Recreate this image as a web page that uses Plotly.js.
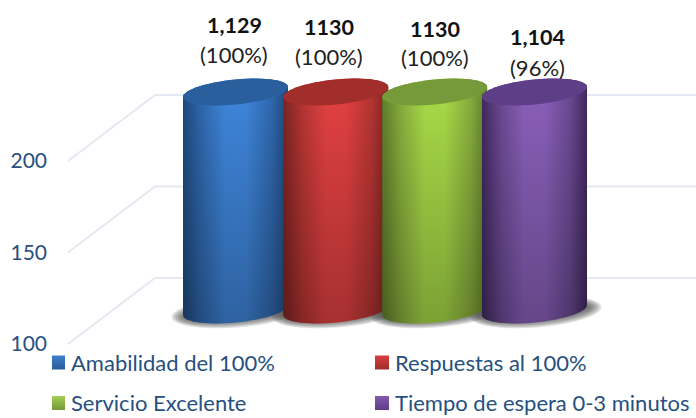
<!DOCTYPE html>
<html><head><meta charset="utf-8">
<script src="https://cdn.plot.ly/plotly-3.0.1.min.js"></script>
<style>html,body{margin:0;padding:0;background:#fff}</style></head>
<body><div id="chart" style="width:696px;height:418px"></div>
<script>
// ---- data ----
const categories = ["Amabilidad del 100%", "Respuestas al 100%", "Servicio Excelente", "Tiempo de espera 0-3 minutos"];
const values = [1129, 1130, 1130, 1104];
const valueLabels = ["1,129", "1130", "1130", "1,104"];
const percentLabels = ["(100%)", "(100%)", "(100%)", "(96%)"];
const tickValues = [100, 150, 200];

// ---- styles / layout ----
const W = 696, H = 418, LEFT = 52;
const axisMax = 200;            // the axis cuts the tall cylinders here
const baseValue = 82.5;         // cylinder floor, in wall coordinates
const tickStep = 183 / 100;     // px per unit
const wallY100 = 278, frontY100 = 344, wallX = 155, frontX = 68;
const cylLeft = [183, 283.3, 382.2, 482], cylW = 105, rx = 52.5, ry = 12.5, shear = 5;
const palette = [
  {edge:"#1f4a7d", soft:"#3069b0", mid:"#3f86dc", top:"#2a5f9e", sw:["#3f7fcc","#2a5d98"]},
  {edge:"#7d2422", soft:"#b63533", mid:"#e44142", top:"#a12e2b", sw:["#d94040","#a02c2a"]},
  {edge:"#5f7f2a", soft:"#8aaf3e", mid:"#a9dc48", top:"#76993a", sw:["#a4cf50","#76993a"]},
  {edge:"#41295f", soft:"#6b4a94", mid:"#8b60ba", top:"#5d3f87", sw:["#8458ae","#5d3f87"]}
];
const textColor = "#27507f", gridColor = "#e4e8f1";
const pv = px => 100 + (wallY100 - px) / tickStep;         // pixel row -> wall value
const vp = v => wallY100 - (v - 100) * tickStep;           // wall value -> pixel row

function ellipsePts(cx, cy, a, b, s, from, to, n) {
  const xs = [], ys = [];
  for (let i = 0; i <= n; i++) {
    const t = from + (to - from) * i / n;
    xs.push(cx + a * Math.cos(t));
    ys.push(pv(cy - s * Math.cos(t) + b * Math.sin(t)));
  }
  return [xs, ys];
}
const noHover = {hoverinfo: "skip", showlegend: false, xaxis: "x", yaxis: "y"};
const traces = [];

// wall grid lines
tickValues.forEach(t => {
  traces.push({type:"scatter", mode:"lines", ...noHover,
    x:[frontX, wallX, W], y:[t - (frontY100 - wallY100) / tickStep, t, t],
    line:{color:gridColor, width:2}});
});

// floor shadows
categories.forEach((c, i) => {
  const cx = cylLeft[i] + rx + 1.5;
  for (let k = 0; k < 7; k++) {
    const [xs, ys] = ellipsePts(cx, 312, rx + 13 - k * 2, 15.5 - k * 1.1, shear, 0, 2 * Math.PI, 48);
    traces.push({type:"scatter", mode:"none", ...noHover, x:xs, y:ys, fill:"toself",
      fillcolor:"rgba(60,60,60,0.15)"});
  }
});

// cylinders
categories.forEach((c, i) => {
  const cx = cylLeft[i] + rx, p = palette[i];
  const topY = vp(Math.min(values[i], axisMax)) - 3;
  const floorY = vp(baseValue);
  traces.push({type:"bar", name:c, ...noHover, x:[cx], y:[Math.min(values[i], axisMax) - baseValue],
    base:[baseValue], width:[90], marker:{color:p.mid}});
  // body: back half of top rim, front half of floor rim
  const [tx, ty] = ellipsePts(cx, topY, rx, ry, shear, Math.PI, 2 * Math.PI, 30);
  const [bx, by] = ellipsePts(cx, floorY, rx, ry, shear, 0, Math.PI, 30);
  const xs = tx.concat(bx), ys = ty.concat(by);
  traces.push({type:"scatter", mode:"none", ...noHover, x:xs, y:ys, fill:"toself",
    fillgradient:{type:"horizontal", colorscale:[[0,p.edge],[0.18,p.soft],[0.4,p.mid],[0.6,p.mid],[0.84,p.soft],[1,p.edge]]}});
  traces.push({type:"scatter", mode:"none", ...noHover, x:xs, y:ys, fill:"toself",
    fillgradient:{type:"vertical", colorscale:[[0,"rgba(0,0,0,0.27)"],[1,"rgba(0,0,0,0)"]]}});
  // top face
  const [ex, ey] = ellipsePts(cx, topY, rx, ry, shear, 0, 2 * Math.PI, 60);
  traces.push({type:"scatter", mode:"none", ...noHover, x:ex, y:ey, fill:"toself", fillcolor:p.top});
});

// legend swatches + text, and value labels
const legendX = [51, 375], legendRow = [362.5, 403];
const labelX = [234, 329, 435, 537], labelY = [25, 27, 29, 37], pctY = [54.5, 56, 58, 67];
const annotations = [];
categories.forEach((c, i) => {
  const lx = legendX[i % 2], ly = legendRow[Math.floor(i / 2)], s = 7;
  traces.push({type:"scatter", mode:"none", ...noHover,
    x:[lx, lx + 2 * s, lx + 2 * s, lx, lx], y:[ly - s, ly - s, ly + s, ly + s, ly - s].map(pv), fill:"toself",
    fillgradient:{type:"vertical", colorscale:[[0,palette[i].sw[1]],[1,palette[i].sw[0]]]}});
  const textGap = i % 2 ? 20 : 20;
  annotations.push({xref:"paper", yref:"paper", x:(lx + textGap - 2 - LEFT) / (W - LEFT), y:1 - (ly - 0.5) / H,
    xanchor:"left", yanchor:"middle", showarrow:false, text:c,
    font:{family:"Lato, Carlito, sans-serif", size:22, color:textColor}});
  annotations.push({xref:"paper", yref:"paper", x:(labelX[i] - LEFT) / (W - LEFT), y:1 - labelY[i] / H,
    xanchor:"center", yanchor:"middle", showarrow:false, text:"<b>" + valueLabels[i] + "</b>",
    font:{family:"Lato, sans-serif", size:21.5, color:"#111"}});
  annotations.push({xref:"paper", yref:"paper", x:(labelX[i] - LEFT) / (W - LEFT), y:1 - pctY[i] / H,
    xanchor:"center", yanchor:"middle", showarrow:false, text:percentLabels[i],
    font:{family:"Lato, sans-serif", size:22, color:"#222"}});
});

// carrier trace for the front-plane value axis
traces.push({type:"scatter", mode:"none", x:[LEFT], y:[100], xaxis:"x", yaxis:"y2", hoverinfo:"skip", showlegend:false});

const layout = {
  width:W, height:H, margin:{l:LEFT, r:0, t:0, b:0}, showlegend:false,
  paper_bgcolor:"#fff", plot_bgcolor:"rgba(0,0,0,0)", barmode:"overlay",
  xaxis:{range:[LEFT, W], visible:false, fixedrange:true},
  yaxis:{range:[pv(H), pv(0)], visible:false, fixedrange:true},
  yaxis2:{overlaying:"y", side:"left", range:[100 - (H - frontY100) / tickStep, 100 + frontY100 / tickStep],
    tickmode:"array", tickvals:tickValues, ticktext:tickValues.map(String), showgrid:false, zeroline:false,
    showline:false, ticks:"", ticklabelstandoff:4, tickfont:{family:"Lato, sans-serif", size:21, color:textColor}, fixedrange:true},
  annotations
};
Plotly.newPlot("chart", traces, layout, {displayModeBar:false, staticPlot:true});
</script></body></html>
